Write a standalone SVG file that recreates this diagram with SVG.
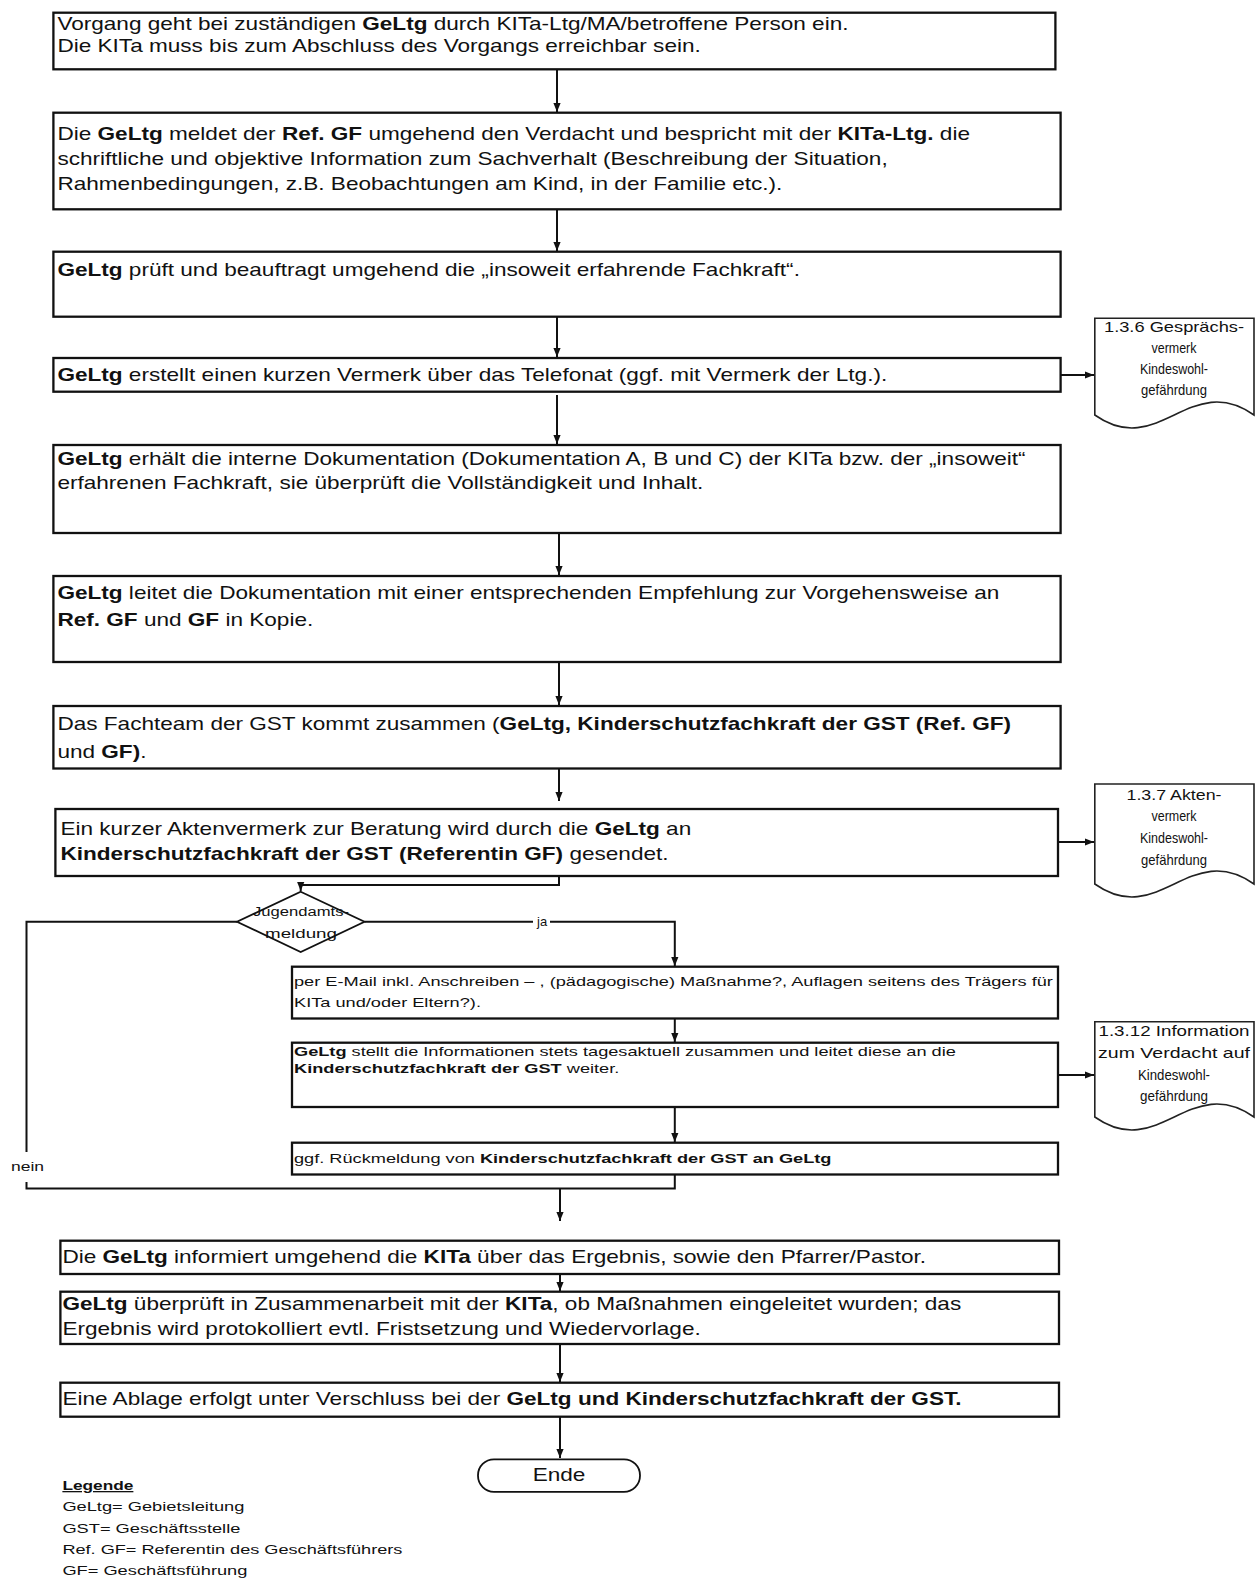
<svg xmlns="http://www.w3.org/2000/svg" width="1256" height="1579" viewBox="0 0 1256 1579">
<style>
.box{fill:#fff;stroke:#111;stroke-width:2.3}
.doc{fill:#fff;stroke:#222;stroke-width:1.6}
.ln{fill:none;stroke:#111;stroke-width:2}
.t{font-family:"Liberation Sans",Arial,sans-serif;font-size:17.5px;fill:#111}
.s{font-family:"Liberation Sans",Arial,sans-serif;font-size:13px;fill:#111}
.d{font-family:"Liberation Sans",Arial,sans-serif;font-size:15px;fill:#111;text-anchor:middle}
.b{font-weight:bold}
</style>
<defs>
<marker id="ah" viewBox="0 0 10 10" refX="10" refY="5" markerWidth="9" markerHeight="9" markerUnits="userSpaceOnUse" orient="auto">
<path d="M0,1 L10,5 L0,9 Z" fill="#111"/>
</marker>
</defs>
<rect width="1256" height="1579" fill="#fff"/>

<g id="connectors">
<path class="ln" d="M557,69 V112" marker-end="url(#ah)"/>
<path class="ln" d="M557,209 V251" marker-end="url(#ah)"/>
<path class="ln" d="M557,316 V357" marker-end="url(#ah)"/>
<path class="ln" d="M557,395 V444" marker-end="url(#ah)"/>
<path class="ln" d="M559,520 V575" marker-end="url(#ah)"/>
<path class="ln" d="M559,650 V705" marker-end="url(#ah)"/>
<path class="ln" d="M559,757 V801" marker-end="url(#ah)"/>
<path class="ln" d="M1060,375 H1094" marker-end="url(#ah)"/>
<path class="ln" d="M1058,842 H1094" marker-end="url(#ah)"/>
<path class="ln" d="M1050,1075 H1094" marker-end="url(#ah)"/>
<path class="ln" d="M559,876 V885 H300.7 V891" marker-end="url(#ah)"/>
<path class="ln" d="M364.5,921.7 H533"/>
<path class="ln" d="M550,921.7 H674.8 V966" marker-end="url(#ah)"/>
<path class="ln" d="M237,921.7 H26.5 V1152"/>
<path class="ln" d="M26.5,1182 V1188.5 H674.8 V1174"/>
<path class="ln" d="M674.8,1018.5 V1042" marker-end="url(#ah)"/>
<path class="ln" d="M674.8,1107 V1142" marker-end="url(#ah)"/>
<path class="ln" d="M560,1188.5 V1221" marker-end="url(#ah)"/>
<path class="ln" d="M560,1247 V1291" marker-end="url(#ah)"/>
<path class="ln" d="M560,1338 V1382" marker-end="url(#ah)"/>
<path class="ln" d="M560,1417 V1458" marker-end="url(#ah)"/>
<text class="s" x="537" y="926">ja</text>
<text class="s" x="11" y="1171" textLength="33" lengthAdjust="spacingAndGlyphs">nein</text>
</g>

<g id="n1">
<rect class="box" x="53.4" y="12.7" width="1002" height="56.6"/>
<text class="t" transform="translate(57.4,30) scale(1.29,1)">Vorgang geht bei zuständigen <tspan class="b">GeLtg</tspan> durch KITa-Ltg/MA/betroffene Person ein.</text>
<text class="t" transform="translate(57.4,52) scale(1.29,1)">Die KITa muss bis zum Abschluss des Vorgangs erreichbar sein.</text>
</g>

<g id="n2">
<rect class="box" x="53.4" y="112.7" width="1007.2" height="96.6"/>
<text class="t" transform="translate(57.4,140) scale(1.29,1)">Die <tspan class="b">GeLtg</tspan> meldet der <tspan class="b">Ref. GF</tspan> umgehend den Verdacht und bespricht mit der <tspan class="b">KITa-Ltg.</tspan> die</text>
<text class="t" transform="translate(57.4,165) scale(1.29,1)">schriftliche und objektive Information zum Sachverhalt (Beschreibung der Situation,</text>
<text class="t" transform="translate(57.4,190) scale(1.29,1)">Rahmenbedingungen, z.B. Beobachtungen am Kind, in der Familie etc.).</text>
</g>

<g id="n3">
<rect class="box" x="53.4" y="251.7" width="1007.2" height="65"/>
<text class="t" transform="translate(57.4,276) scale(1.29,1)"><tspan class="b">GeLtg</tspan> prüft und beauftragt umgehend die „insoweit erfahrende Fachkraft“.</text>
</g>

<g id="n4">
<rect class="box" x="53.4" y="358" width="1007.2" height="33.7"/>
<text class="t" transform="translate(57.4,381) scale(1.29,1)"><tspan class="b">GeLtg</tspan> erstellt einen kurzen Vermerk über das Telefonat (ggf. mit Vermerk der Ltg.).</text>
</g>

<g id="d1">
<path class="doc" d="M1094.8,318.3 H1254 V415 C1190,370 1158.5,460 1094.8,415 Z"/>
<text class="d" x="1174" y="332" textLength="140" lengthAdjust="spacingAndGlyphs">1.3.6 Gesprächs-</text>
<text class="d" x="1174" y="353" textLength="45" lengthAdjust="spacingAndGlyphs">vermerk</text>
<text class="d" x="1174" y="374" textLength="68" lengthAdjust="spacingAndGlyphs">Kindeswohl-</text>
<text class="d" x="1174" y="395" textLength="66" lengthAdjust="spacingAndGlyphs">gefährdung</text>
</g>

<g id="n5">
<rect class="box" x="53.4" y="445" width="1007.2" height="88"/>
<text class="t" transform="translate(57.4,465) scale(1.29,1)"><tspan class="b">GeLtg</tspan> erhält die interne Dokumentation (Dokumentation A, B und C) der KITa bzw. der „insoweit“</text>
<text class="t" transform="translate(57.4,489) scale(1.29,1)">erfahrenen Fachkraft, sie überprüft die Vollständigkeit und Inhalt.</text>
</g>

<g id="n6">
<rect class="box" x="53.4" y="576" width="1007.2" height="86"/>
<text class="t" transform="translate(57.4,599) scale(1.29,1)"><tspan class="b">GeLtg</tspan> leitet die Dokumentation mit einer entsprechenden Empfehlung zur Vorgehensweise an</text>
<text class="t" transform="translate(57.4,626) scale(1.29,1)"><tspan class="b">Ref. GF</tspan> und <tspan class="b">GF</tspan> in Kopie.</text>
</g>

<g id="n7">
<rect class="box" x="53.4" y="706" width="1007.2" height="62.5"/>
<text class="t" transform="translate(57.4,730) scale(1.29,1)">Das Fachteam der GST kommt zusammen (<tspan class="b">GeLtg, Kinderschutzfachkraft der GST (Ref. GF)</tspan></text>
<text class="t" transform="translate(57.4,758) scale(1.29,1)">und <tspan class="b">GF)</tspan>.</text>
</g>

<g id="n8">
<rect class="box" x="55.4" y="809" width="1002.6" height="67"/>
<text class="t" transform="translate(60.4,835) scale(1.29,1)">Ein kurzer Aktenvermerk zur Beratung wird durch die <tspan class="b">GeLtg</tspan> an</text>
<text class="t" transform="translate(60.4,860) scale(1.29,1)"><tspan class="b">Kinderschutzfachkraft der GST (Referentin GF)</tspan> gesendet.</text>
</g>

<g id="d2">
<path class="doc" d="M1094.8,784 H1254 V884 C1190,839 1158.5,929 1094.8,884 Z"/>
<text class="d" x="1174" y="800" textLength="95" lengthAdjust="spacingAndGlyphs">1.3.7 Akten-</text>
<text class="d" x="1174" y="821" textLength="45" lengthAdjust="spacingAndGlyphs">vermerk</text>
<text class="d" x="1174" y="843" textLength="68" lengthAdjust="spacingAndGlyphs">Kindeswohl-</text>
<text class="d" x="1174" y="865" textLength="66" lengthAdjust="spacingAndGlyphs">gefährdung</text>
</g>

<g id="dec">
<path class="box" d="M300.7,891.7 L364.5,921.7 L300.7,952 L237,921.7 Z" style="stroke-width:1.8"/>
<text class="s" x="301" y="916" text-anchor="middle" textLength="96" lengthAdjust="spacingAndGlyphs" style="font-size:12.5px">Jugendamts-</text>
<text class="s" x="301" y="938" text-anchor="middle" textLength="72" lengthAdjust="spacingAndGlyphs" style="font-size:12.5px">meldung</text>
</g>

<g id="n9">
<rect class="box" x="292" y="966.7" width="766" height="51.8"/>
<text class="s" transform="translate(294,986) scale(1.40,1)">per E-Mail inkl. Anschreiben – , (pädagogische) Maßnahme?, Auflagen seitens des Trägers für</text>
<text class="s" transform="translate(294,1007) scale(1.40,1)">KITa und/oder Eltern?).</text>
</g>

<g id="n10">
<rect class="box" x="292" y="1042.7" width="766" height="64.3"/>
<text class="s" transform="translate(294,1056) scale(1.40,1)"><tspan class="b">GeLtg</tspan> stellt die Informationen stets tagesaktuell zusammen und leitet diese an die</text>
<text class="s" transform="translate(294,1073) scale(1.40,1)"><tspan class="b">Kinderschutzfachkraft der GST</tspan> weiter.</text>
</g>

<g id="d3">
<path class="doc" d="M1094.8,1021.7 H1254 V1117 C1190,1072 1158.5,1162 1094.8,1117 Z"/>
<text class="d" x="1174" y="1036" textLength="151" lengthAdjust="spacingAndGlyphs">1.3.12 Information</text>
<text class="d" x="1174" y="1058" textLength="152" lengthAdjust="spacingAndGlyphs">zum Verdacht auf</text>
<text class="d" x="1174" y="1080" textLength="72" lengthAdjust="spacingAndGlyphs">Kindeswohl-</text>
<text class="d" x="1174" y="1101" textLength="68" lengthAdjust="spacingAndGlyphs">gefährdung</text>
</g>

<g id="n11">
<rect class="box" x="292" y="1142.7" width="766" height="31.8"/>
<text class="s" transform="translate(294,1163) scale(1.40,1)">ggf. Rückmeldung von <tspan class="b">Kinderschutzfachkraft der GST an GeLtg</tspan></text>
</g>

<g id="n12">
<rect class="box" x="60.4" y="1240.7" width="998.6" height="33.3"/>
<text class="t" transform="translate(62.4,1263) scale(1.29,1)">Die <tspan class="b">GeLtg</tspan> informiert umgehend die <tspan class="b">KITa</tspan> über das Ergebnis, sowie den Pfarrer/Pastor.</text>
</g>

<g id="n13">
<rect class="box" x="60.4" y="1291.7" width="998.6" height="52.3"/>
<text class="t" transform="translate(62.4,1310) scale(1.29,1)"><tspan class="b">GeLtg</tspan> überprüft in Zusammenarbeit mit der <tspan class="b">KITa</tspan>, ob Maßnahmen eingeleitet wurden; das</text>
<text class="t" transform="translate(62.4,1335) scale(1.29,1)">Ergebnis wird protokolliert evtl. Fristsetzung und Wiedervorlage.</text>
</g>

<g id="n14">
<rect class="box" x="60.4" y="1382.7" width="998.6" height="34"/>
<text class="t" transform="translate(62.4,1405) scale(1.29,1)">Eine Ablage erfolgt unter Verschluss bei der <tspan class="b">GeLtg und Kinderschutzfachkraft der GST.</tspan></text>
</g>

<g id="end">
<rect class="box" x="478" y="1459.3" width="162" height="32.5" rx="16" style="stroke-width:1.8"/>
<text class="t" text-anchor="middle" transform="translate(559,1481) scale(1.29,1)">Ende</text>
</g>

<g id="legend">
<text class="s b" x="62.4" y="1490" textLength="71" lengthAdjust="spacingAndGlyphs" text-decoration="underline">Legende</text>
<text class="s" x="62.4" y="1511" textLength="182" lengthAdjust="spacingAndGlyphs">GeLtg= Gebietsleitung</text>
<text class="s" x="62.4" y="1533" textLength="178" lengthAdjust="spacingAndGlyphs">GST= Geschäftsstelle</text>
<text class="s" x="62.4" y="1554" textLength="340" lengthAdjust="spacingAndGlyphs">Ref. GF= Referentin des Geschäftsführers</text>
<text class="s" x="62.4" y="1575" textLength="185" lengthAdjust="spacingAndGlyphs">GF= Geschäftsführung</text>
</g>
</svg>
